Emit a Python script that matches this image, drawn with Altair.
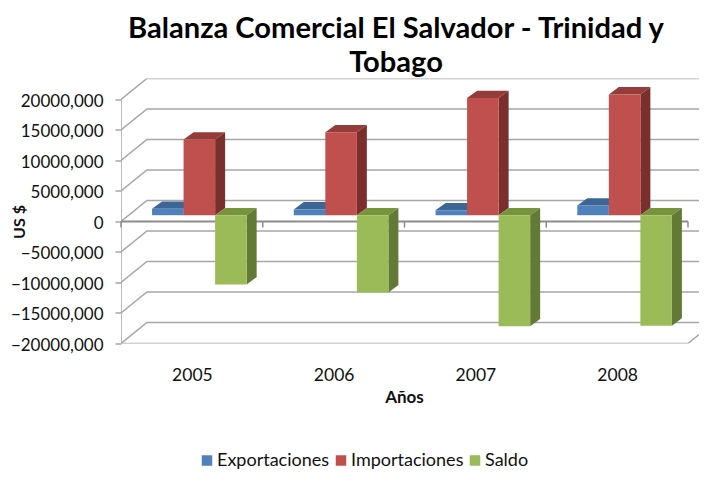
import altair as alt
import pandas as pd

years = ["2005", "2006", "2007", "2008"]
series = ["Exportaciones", "Importaciones", "Saldo"]
exportaciones = [1050000, 950000, 800000, 1600000]
importaciones = [12400000, 13600000, 19200000, 19800000]
saldo = [-11350000, -12650000, -18200000, -18100000]
y_ticks = [20000000, 15000000, 10000000, 5000000, 0, -5000000, -10000000, -15000000, -20000000]
front_colors = ["#4f81bd", "#c0504d", "#9bbb59"]
top_colors = ["#3d6695", "#943c3a", "#77933c"]
side_colors = ["#355a85", "#7b2f2d", "#637a36"]

# scene geometry, in data units
X_MAX = 4.0776
Y_MIN, Y_MAX = -20000000, 23440000
WALL_DX, WALL_DY = 0.183, 3440000
BAR_START, BAR_W = 0.219, 0.2225
BAR_DX, BAR_DY = 0.0705, 1200000
BASE = 1030000

xs = alt.Scale(domain=[0, X_MAX], nice=False, zero=False)
ys = alt.Scale(domain=[Y_MIN, Y_MAX], nice=False, zero=False)
GRAY = "#a6a6a6"
FONT = "Lato"

x_axis = alt.Axis(values=[0.5, 1.5, 2.5, 3.5], domain=False, ticks=False, grid=False, title="Años",
                  labelExpr="['2005','2006','2007','2008'][floor(datum.value)]",
                  labelFont=FONT, labelFontSize=17.5, labelColor="#111", labelPadding=23, labelAngle=0,
                  titleFont=FONT, titleFontSize=17, titleFontWeight="bold", titleColor="#111",
                  titleX=283, titleY=46)
y_axis = alt.Axis(values=y_ticks, domain=False, grid=False, tickColor=GRAY, tickSize=6, tickWidth=1.5,
                  labelExpr="datum.value == 0 ? '0' : format(datum.value / 1000, 'd') + ',000'",
                  labelFont=FONT, labelFontSize=17, labelColor="#111", labelPadding=12, labelOffset=2,
                  title="US $", titleFont=FONT, titleFontSize=16, titleFontWeight="bold", titleColor="#111",
                  titleX=-94, titleY=143)


def X():
    return alt.X("x:Q", scale=xs, axis=x_axis)


def Y():
    return alt.Y("y:Q", scale=ys, axis=y_axis)


# walls
rows = []
for v in y_ticks:
    pts = [(0, v), (WALL_DX, v + WALL_DY), (X_MAX, v + WALL_DY)]
    for i, (px, py) in enumerate(pts):
        rows.append({"id": f"g{v}", "seq": i, "x": px, "y": py})
rows += [{"id": "wall", "seq": 0, "x": 0, "y": Y_MIN}, {"id": "wall", "seq": 1, "x": 0, "y": y_ticks[0]}]
rows += [{"id": "floor", "seq": 0, "x": 0, "y": Y_MIN}, {"id": "floor", "seq": 1, "x": 4, "y": Y_MIN},
         {"id": "floor", "seq": 2, "x": X_MAX, "y": Y_MIN + WALL_DY * (X_MAX - 4) / WALL_DX}]
walls = alt.Chart(pd.DataFrame(rows)).mark_line(color=GRAY, strokeWidth=1.5, clip=True).encode(
    x=X(), y=Y(), detail="id:N", order="seq:Q",
)

zero_df = pd.DataFrame({"x": [0, 4], "y": [0, 0]})
zero = alt.Chart(zero_df).mark_line(color="#8c8c8c", strokeWidth=2).encode(x=X(), y=Y())
tick_df = pd.DataFrame({"x": [0, 1, 2, 3, 4], "y": [0] * 5, "y2": [-1000000] * 5})
cat_ticks = alt.Chart(tick_df).mark_rule(color="#8c8c8c", strokeWidth=1.5).encode(x=X(), y=Y(), y2="y2:Q")

layers = [walls, zero, cat_ticks]
color = alt.Color(
    "serie:N",
    scale=alt.Scale(domain=series, range=front_colors),
    legend=alt.Legend(orient="none", direction="horizontal", title=None, columns=3, legendX=77, legendY=373,
                      symbolType="square", symbolSize=110, symbolStrokeWidth=0, labelFont=FONT,
                      labelFontSize=18, labelColor="#111", columnPadding=2, symbolOffset=0, labelOffset=1, padding=0),
)
for s, (name, vals) in enumerate(zip(series, [exportaciones, importaciones, saldo])):
    front, top, side = [], [], []
    for c, v in enumerate(vals):
        x0 = c + BAR_START + s * BAR_W
        x1 = x0 + BAR_W
        hi = BASE + max(v, 0)
        lo = BASE + min(v, 0)
        front.append({"serie": name, "x": x0, "x2": x1, "y": hi, "y2": lo})
        for px, py, py2 in [(x0, hi, hi), (x0 + BAR_DX, hi + BAR_DY, hi),
                            (x1, hi + BAR_DY, hi), (x1 + BAR_DX, hi + BAR_DY, hi + BAR_DY)]:
            top.append({"bar": c, "x": px, "y": py, "y2": py2})
        for px, py, py2 in [(x1, hi, lo), (x1 + BAR_DX, hi + BAR_DY, lo + BAR_DY)]:
            side.append({"bar": c, "x": px, "y": py, "y2": py2})
    layers.append(alt.Chart(pd.DataFrame(top)).mark_area(color=top_colors[s], interpolate="linear").encode(
        x=X(), y=Y(), y2="y2:Q", detail="bar:N"))
    layers.append(alt.Chart(pd.DataFrame(side)).mark_area(color=side_colors[s], interpolate="linear").encode(
        x=X(), y=Y(), y2="y2:Q", detail="bar:N"))
    layers.append(alt.Chart(pd.DataFrame(front)).mark_rect().encode(
        x=X(), x2="x2:Q", y=Y(), y2="y2:Q", color=color))

chart = alt.layer(*layers).properties(
    width=578,
    height=265,
    padding={"left": 113, "top": 70.5, "right": 0, "bottom": 125.5},
    autosize=alt.AutoSizeParams(type="none"),
    title=alt.TitleParams(
        text=["Balanza Comercial El Salvador - Trinidad y", "Tobago"],
        font=FONT, fontSize=29.1, fontWeight="bold", color="#000", lineHeight=34,
        anchor="middle", dx=-14, offset=0,
    ),
).configure_view(stroke=None).configure_axis(labelOverlap=False)

chart.save("out.html", embed_options={"renderer": "svg", "actions": False})
